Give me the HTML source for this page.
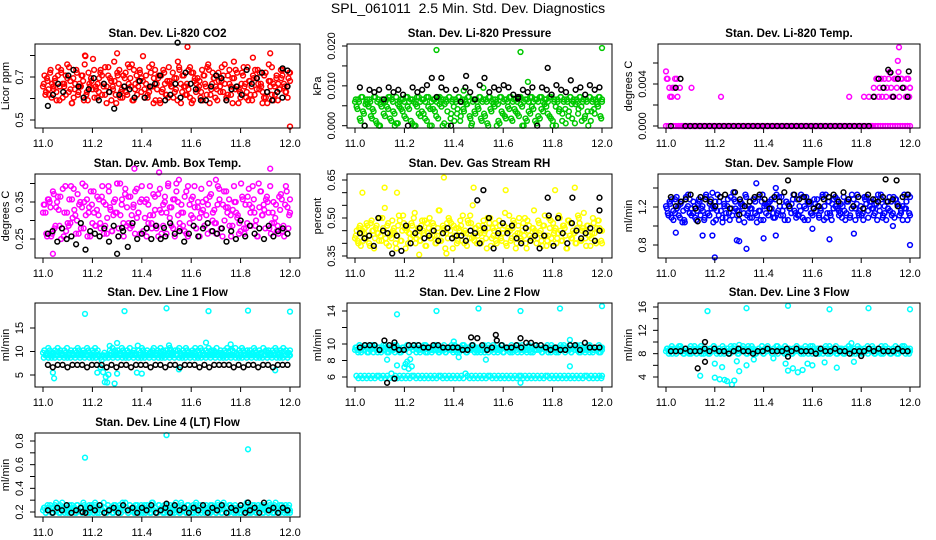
<!DOCTYPE html>
<html><head><meta charset="utf-8"><style>
html,body{margin:0;padding:0;background:#fff;}
svg{display:block;font-family:"Liberation Sans",Arial,sans-serif;}
</style></head><body>
<svg id="chart" width="936" height="540" viewBox="0 0 936 540" xmlns="http://www.w3.org/2000/svg">
<rect width="936" height="540" fill="#fff"/>
<text x="468" y="13" font-size="14" text-anchor="middle">SPL_061011&#160; 2.5 Min. Std. Dev. Diagnostics</text>
</svg>
<script>
// ---- data (x evenly spaced 11.0..12.0 for strings; base36 code 0..35 mapped into [lo,hi]) ----
const xTickValues = [11.0, 11.2, 11.4, 11.6, 11.8, 12.0];
const xTickLabels = ["11.0", "11.2", "11.4", "11.6", "11.8", "12.0"];

const co2Red = "gkeidmhfjbnglchkoeiajfmdhgkbrelgiqcfhjmdgnakeigpdlhcfkjeongbmhdiljrfkcegoamhjbkfldinhgcejpmakgdhfnlbiejgcmkhdoafljgbienkhcdmgjpflaehkgcnidbjmfhlgekcaoidhgjbfmkhegjl";
const co2Red2 = "hdjflcgiekbmhgdjnfachlegkiodbhjfmgcelkhdgnjbfiakmecgldhjobfkgmeichdnlgjbfkaemhdcigljfbnhekgdmcaljhfiebkgnmdhjcflgieobkhdajmgfclnhebigkdjmfhacleignbdkhfjmgecli";
const co2Black = "9dhekmgcfjbhe8dgfcicghkbdhclhfbbgkjbfgdmhjlebecg";
const co2RedOut = [[11.585,0.84],[12.0,0.47],[11.17,0.8],[11.3,0.81],[11.92,0.81],[11.85,0.79]];
const co2BlackOut = [[11.545,0.86],[11.97,0.74],[11.99,0.73]];

const presGreen = "a8b3c60a9b47c2a09b5a8c3b6019a7b4c8a2b09c5a6b3c80a7b4c9a01b6c3a8b5c2a7b9c40a6b8c3a5b1c7a9b02c6a4b8c3a7b5c90a3b6c8a2b4c7a9b5c30a8b6c2a7b4c9a1b5c8a3b6c2a7b9c4a";
const presGreen2 = "b7a2c59b8a36c1b08a4b7c2a5c18b6a3c7b1a08c4b5a2c70b6a3c8b9a0c5b2a7c4b6a9c31b5a7c2b4a0c6b8a91c5b3a7c2b6a4c80b2a5c7b1a3c6b8a4c2b0a7c5b1a6c3b9a7c2b4a0c6b5a8c3b";
const presBlack = "g0fefbgefd0gefhkcgf0fagebhkegfhgdcfeg0gfdhfejfgdhfg";
const presGreenOut = [[11.33,0.019],[11.67,0.0185],[12.0,0.0195],[11.7,0.011],[11.44,0.0088],[11.52,0.0095]];
const presBlackOut = [[11.78,0.0145],[11.35,0.012],[11.45,0.0125],[11.66,0.0068]];

const tempMagA = "lhdhl00000h00000000000d000000000000000000000000000000000000000000000000000d00000d0d0hldlhdlhdlolhdlh";
const tempMagB = "ldhldh000000000000000000000000000000000000000000000000000000000000000000000000000000dlhdlhodlhdlhldh";
const tempMagZero = "0000000000000000000000000000000000000000000000000000000000000000000000000000000000000000000000000000";
const tempBlack = "0hl000000000000000000000000000000000000000dlhpdlhd";
const tempMagOut = [[11.955,0.0075],[11.95,0.0062],[11.99,0.0],[11.0,0.0052]];
const tempBlackOut = [[11.92,0.0051],[11.995,0.0052]];

const ambMag = "hk9ml8pbjnc7qhadmrfi9okbslg8jpdhcnmbr9kfpialhsbgm8qjdnckpfh9ralmdgboic8qhkn9rfjbmsldhcap8kgnrbjfhlcm9soeidkqb8pjhmgcrlf9anbkdqhjmc8spgkbnhrdlfa9imckpbh";
const ambMag2 = "kh8mj9oclinb8rhcdmqge9ljbrmh8kpcigdnlc9rjagmh8skdocnbgj9qhlmaf8krdgnboi9clhsjcm8pgbkhn9rdmfjbl8qicgknahd9rmbkepjc8ilhgdsm9bnkcrhe8jpgimlb9hdkcnoa8rjgm";
const ambBlack = "9a6b785d3a98b6c8a4d79b7c78d9a69c8bda9b6a7e8c9b7c8ab9";
const ambMagOut = [[11.37,0.44],[11.92,0.44],[11.04,0.21],[11.3,0.4],[11.55,0.41],[11.7,0.41],[11.47,0.43]];
const ambBlackOut = [[11.3,0.21],[11.32,0.28],[11.49,0.28]];

const rhYellow = "9c7eb8dfa6gc9ebh8dl7fa9cb5eg8idc7bfaj9d8ecg6bh9fa7dk8ecb9gf5ad8cei7bg9fm8dac7eb9hf6dc8ag9be7ci8df5bh9ca7ge8dkb9fc6ea8hg7bd9ic8ea5gf9b7dh8cj9ea6bf8dgc7";
const rhYellow2 = "a8d6cb9e7fc5db8ahc9e6bgd7ai8cf5db9eh7ca8gb6fd9ce7ak8bd5fhc9ea7dg8bc6fi9ad7eb8gc5dh9af7ce8bj6dc9ga7eb8fh5ca9dc7gb8ei6ad9fc7bh8ed5ga9cb7if8dc6ea9hb7gd8c";
const rhBlack = "b9a6hcb3a4e7bd9ac8bd9aa8cb7dh5bfbe97d8a5ai6hb7fc9bd8c";
const rhYellowOut = [[11.36,0.66],[11.61,0.61],[11.03,0.6],[11.12,0.62],[11.89,0.62],[11.48,0.62],[11.17,0.6],[11.81,0.61],[11.26,0.355],[11.37,0.36]];
const rhBlackOut = [[11.495,0.57],[11.52,0.61],[11.78,0.58],[11.88,0.58],[11.99,0.58],[11.99,0.53]];

const flowBlue = "nkpilqmjoghrnkmpilqjnhskomgpljrinkqhmtpjlongrkimqpjlhsnkopmiqkrjlnphmoskqjlinrhpkmoqjlsnipkhmrqjonlkpimqhsjnkrolpmjqhnsikpmljrqonkhmpsj";
const flowBlue2 = "mjoqhkrniplgmsqjknhopmlirkjqnmhsplgoinkrjqmlhpoksjnmiqkgrlphonjmqkislnrjhpomkqlijnsrhmpokjqlnimrhskpjoqnmlkirhpqjsnmokljhqrinpmkoslqjnhmrpkiqojlnsmhkr";
const flowBlack = "rnpqsmrqpnrsmtqnprsqmrptnsqrpmnqrsptqnrmsqprpqnrs";
const flowBlueOut = [[11.04,0.93],[11.15,0.9],[11.19,0.9],[11.2,0.67],[11.3,0.84],[11.33,0.76],[11.4,0.87],[11.45,0.9],[11.6,0.97],[11.67,0.86],[11.77,0.92],[12.0,0.8],[11.93,1.0],[11.29,0.85],[11.37,1.45],[11.45,1.4],[11.19,1.35]];
const flowBlackOut = [[11.13,1.05],[11.9,1.49],[11.945,1.48],[11.5,1.48],[11.3,1.12]];

const l1Cyan = "fgefhgeffgehfgfegfhefgfegfhgefgfehgfegfhfge9c7f5e6gfhegfgefhgfegfhefgfeigfhgefgeffghefgfhegfgefhgffgeghfegfhgfefgfhegfhgfegfhegfgfhefgfegfhfgegfhfegfhgfegfgefhgfegffhegfgfegfhgefgfhegffg";
const l1Cyan2 = "deedededeedeedededeedeedeedeedededeedeededeedeedeedededeedeedededeedeedeedededeedeedeedededeedeedededeedeedeedeedededeedeedededeedeedeedededeedeedeedededeedee";
const l1Black = "a9aa9aaa9aaa9a9aa9aaa9aa9aa9aaa9a9aaaa9a9aa9aa9aaa";
const l1CyanOut = [[11.17,18],[11.33,18.6],[11.5,19.2],[11.67,18.6],[11.83,18.7],[12.0,18.5],[11.04,5.5],[11.045,4.3],[11.25,3.5],[11.26,3.4],[11.29,3.2],[11.3,5.3],[11.22,5.5],[11.38,5.5],[11.4,5.3],[11.94,6.0],[11.55,6.2],[11.3,11.8],[11.27,11.2],[11.66,11.9],[11.76,11.5],[11.51,11.3]];

const l2CyanHi = "fgehfgfhegfgehfgfegfhegfgfehgfegf9a7b8fgehfgfhegfgefhgfegfhegfgfehgfegfhgefgfhegfgefhfgegfhgfegfhegfgehfgfegfhgfegfgehfgfhegfgefhgfegfhfgegfhegfgfehgfegfhgefgfheg";
const l2CyanHi2 = "gfhegfgefhgfegfhfgegfhgfefgfhegfhgfegfhegfgfhefgfegfhfgegfhfegfhgfegfgefhgfegffhegfgfegfhgefgfhegffgfegfhgefgfegfhfgfegfhgefgfhegfgfegf";
const l2CyanLo = "4343434343443434353434343434434343434343443434343434354343434343443434343434343443434343434344343434343434343434434343434";
const l2Black = "ghhhfjhgffhhhgghhggggffhkhfgjhgghgiihhgfgffhhfiggg";
const l2CyanOut = [[11.17,13.6],[11.33,14],[11.5,14.3],[11.67,14],[11.83,14.3],[12.0,14.6],[11.87,7.3],[11.17,7.4],[11.2,7.2],[11.13,8.1],[11.53,8.1],[11.42,8.4],[11.67,5.3],[11.87,10.5],[11.4,10.3]];
const l2BlackOut = [[11.13,5.3],[11.16,5.8],[11.16,10.2],[11.57,11.1],[11.47,10.8],[11.67,10.7]];

const l3Cyan = "fgefhgfegfhgefgfehfgfegfhgefgfegfhgefgfhefgfegfhgfegfhfgegfhgfefgfhegfhgfegfhegfgfhefgfegfhfgegfhfegfhgfegfgefhgfegffhegfgfegfhgefgfhegffgfegfhgefgfegfhfgfegfhgefgfhegfg";
const l3Cyan2 = "gfgefgfhgfegfgefhgfgefgfegfhgfgefgfgehfgfegfgfehgfgefgfhegfgfegfhgfgefgfegfhgfgefgfhegfgefgfgehgfgefgfegfhgfgefgfegfhgfgefgfhegfgefgfegfhgfgef";
const l3Black = "fffgfffgfgffefgffeffgfffgfgfffegffgffefffgfgfffgff";
const l3CyanOut = [[11.2,3.9],[11.22,3.6],[11.24,3.5],[11.25,3.3],[11.27,2.7],[11.28,3.4],[11.14,4.2],[11.23,5.7],[11.3,5],[11.33,6],[11.29,6.7],[11.5,5.1],[11.52,5.5],[11.54,4.8],[11.56,5.2],[11.58,6.3],[11.6,6.0],[11.7,5.6],[11.65,6.5],[11.49,6.3],[11.36,7],[11.44,7.2],[11.2,6.3],[11.77,6.6],[11.76,9.8],[11.3,9.5],[11.17,15.3],[11.33,15.8],[11.5,16.2],[11.67,15.6],[11.83,15.8],[12.0,15.6]];
const l3BlackOut = [[11.13,5.5],[11.16,10],[11.16,6.6],[11.8,7.6],[11.5,7.5]];

const l4Cyan = "3424352436425342534253425342634253425342536425342534252436425342534253425342634253425342534263425342534253624534253425342534263425342534253426342534253425342534264253425342";
const l4Cyan2 = "4253425342634253425342534253624534253425342634253425342534263425342534253426342534253425342534264253425342342435243524352436425342534253";
const l4Black = "3243523424352342534243523425342435243524352342634243";
const l4CyanOut = [[11.17,0.66],[11.5,0.85],[11.83,0.73]];
const l4BlackOut = [[11.5,0.27],[11.83,0.28],[11.16,0.2]];

const panels = [
 {name:"co2",title:"Stan. Dev. Li-820 CO2",ylab:"Licor ppm",col:0,row:0,cal:[0.5,120,0.7,77],ticks:[0.5,0.6,0.7,0.8],labels:[[0.5,"0.5"],[0.7,"0.7"]],
  series:[[co2Red,0.45,0.9,"#ff0000"],[co2Red2,0.45,0.9,"#ff0000"],[co2Black,0.45,0.9,"#000"]],out:[[co2RedOut,"#ff0000"],[co2BlackOut,"#000"]]},
 {name:"pressure",title:"Stan. Dev. Li-820 Pressure",ylab:"kPa",col:1,row:0,cal:[0,125.7,0.02,46],ticks:[0,0.005,0.01,0.015,0.02],labels:[[0,"0.000"],[0.01,"0.010"],[0.02,"0.020"]],
  series:[[presGreen,0,0.021,"#00c800"],[presGreen2,0,0.021,"#00c800"],[presBlack,0,0.021,"#000"]],out:[[presGreenOut,"#00c800"],[presBlackOut,"#000"]]},
 {name:"temp",title:"Stan. Dev. Li-820 Temp.",ylab:"degrees C",col:2,row:0,cal:[0,126,0.004,84],ticks:[0,0.002,0.004,0.006],labels:[[0,"0.000"],[0.004,"0.004"]],
  series:[[tempMagZero,0,0.0075,"#ff00ff"],[tempMagA,0,0.0075,"#ff00ff"],[tempMagB,0,0.0075,"#ff00ff"],[tempBlack,0,0.0075,"#000"]],out:[[tempMagOut,"#ff00ff"],[tempBlackOut,"#000"]]},
 {name:"ambbox",title:"Stan. Dev. Amb. Box Temp.",ylab:"degrees C",col:0,row:1,cal:[0.25,239,0.35,202],ticks:[0.25,0.3,0.35,0.4],labels:[[0.25,"0.25"],[0.35,"0.35"]],
  series:[[ambMag,0.2,0.45,"#ff00ff"],[ambMag2,0.2,0.45,"#ff00ff"],[ambBlack,0.2,0.45,"#000"]],out:[[ambMagOut,"#ff00ff"],[ambBlackOut,"#000"]]},
 {name:"rh",title:"Stan. Dev. Gas Stream RH",ylab:"percent",col:1,row:1,cal:[0.35,256,0.65,180],ticks:[0.35,0.4,0.45,0.5,0.55,0.6,0.65],labels:[[0.35,"0.35"],[0.5,"0.50"],[0.65,"0.65"]],
  series:[[rhYellow,0.33,0.68,"#ffff00"],[rhYellow2,0.33,0.68,"#ffff00"],[rhBlack,0.33,0.68,"#000"]],out:[[rhYellowOut,"#ffff00"],[rhBlackOut,"#000"]]},
 {name:"sampleflow",title:"Stan. Dev. Sample Flow",ylab:"ml/min",col:2,row:1,cal:[0.8,245,1.2,207],ticks:[0.8,1.0,1.2,1.4],labels:[[0.8,"0.8"],[1.2,"1.2"]],
  series:[[flowBlue,0.65,1.5,"#0000ff"],[flowBlue2,0.65,1.5,"#0000ff"],[flowBlack,0.65,1.5,"#000"]],out:[[flowBlueOut,"#0000ff"],[flowBlackOut,"#000"]]},
 {name:"line1",title:"Stan. Dev. Line 1 Flow",ylab:"ml/min",col:0,row:2,cal:[5,375,15,328],ticks:[5,10,15],labels:[[5,"5"],[10,"10"],[15,"15"]],
  series:[[l1Cyan,2,20,"#00ffff"],[l1Cyan2,2,20,"#00ffff"],[l1Black,2,20,"#000"]],out:[[l1CyanOut,"#00ffff"]]},
 {name:"line2",title:"Stan. Dev. Line 2 Flow",ylab:"ml/min",col:1,row:2,cal:[6,377,14,311],ticks:[6,8,10,12,14],labels:[[6,"6"],[8,"8"],[10,"10"],[14,"14"]],
  series:[[l2CyanHi,5,15,"#00ffff"],[l2CyanHi2,5,15,"#00ffff"],[l2CyanLo,5,15,"#00ffff"],[l2Black,5,15,"#000"]],out:[[l2CyanOut,"#00ffff"],[l2BlackOut,"#000"]]},
 {name:"line3",title:"Stan. Dev. Line 3 Flow",ylab:"ml/min",col:2,row:2,cal:[4,377,16,307],ticks:[4,6,8,10,12,14,16],labels:[[4,"4"],[8,"8"],[12,"12"],[16,"16"]],
  series:[[l3Cyan,2,17,"#00ffff"],[l3Cyan2,2,17,"#00ffff"],[l3Black,2,17,"#000"]],out:[[l3CyanOut,"#00ffff"],[l3BlackOut,"#000"]]},
 {name:"line4",title:"Stan. Dev. Line 4 (LT) Flow",ylab:"ml/min",col:0,row:3,cal:[0.2,512,0.8,441],ticks:[0.2,0.3,0.4,0.5,0.6,0.7,0.8],labels:[[0.2,"0.2"],[0.4,"0.4"],[0.6,"0.6"],[0.8,"0.8"]],
  series:[[l4Cyan,0.15,0.9,"#00ffff"],[l4Cyan2,0.15,0.9,"#00ffff"],[l4Black,0.15,0.9,"#000"]],out:[[l4CyanOut,"#00ffff"],[l4BlackOut,"#000"]]}
];

const NS = "http://www.w3.org/2000/svg";
const svg = document.getElementById("chart");
const colX = [35, 347, 658], colW = [265, 265, 262];
const rowY = [44, 174, 303, 433], BH = 84;
function mk(tag, attrs, parent){ const e=document.createElementNS(NS,tag); for(const k in attrs) e.setAttribute(k,attrs[k]); parent.appendChild(e); return e; }
function decode(s, lo, hi){ return Array.from(s).map(c => lo + parseInt(c,36)/35*(hi-lo)); }

panels.forEach(p => {
  const bx = colX[p.col], bw = colW[p.col], by = rowY[p.row];
  const xs = v => bx + 8 + (v - 11) * (bw - 18);
  const [v0,y0,v1,y1] = p.cal;
  const ys = v => y0 + (v - v0) * (y1 - y0) / (v1 - v0);
  const g = mk("g", {}, svg);
  
  
  const t = mk("text", {x: bx + bw/2, y: by - 7, "font-size": 11.5, "font-weight": "bold", "text-anchor": "middle"}, g);
  t.textContent = p.title;
  
  
  const yl = mk("text", {transform: `translate(${bx-26},${by+BH/2}) rotate(-90)`, "font-size": 11, "text-anchor": "middle"}, g);
  yl.textContent = p.ylab;
  
  
  const pts = mk("g", {fill: "none", "stroke-width": 1.5}, g);
  
  
  const dot = (x, y, c) => {
    const el = mk("circle", {cx: xs(x).toFixed(1), cy: ys(y).toFixed(1), r: 2.4, stroke: c}, pts);
    
    
  };
  const colored = p.series.filter(s => s[3] !== "#000"), blacks = p.series.filter(s => s[3] === "#000");
  colored.forEach(([s, lo, hi, c], k) => { const vals = decode(s, lo, hi); const n = vals.length; const off = (k / colored.length) / n;
    vals.forEach((v, i) => dot(Math.min(12, 11 + i/(n-1) + off), v, c)); });
  p.out.filter(o => o[1] !== "#000").forEach(([arr, c]) => arr.forEach(([x, y]) => dot(x, y, c)));
  blacks.forEach(([s, lo, hi, c]) => { const vals = decode(s, lo, hi); const n = vals.length;
    vals.forEach((v, i) => dot(11.02 + i/(n-1)*0.97, v, c)); });
  p.out.filter(o => o[1] === "#000").forEach(([arr, c]) => arr.forEach(([x, y]) => dot(x, y, c)));
  const box = mk("rect", {x: bx, y: by, width: bw, height: BH, fill: "none", stroke: "#000", "stroke-width": 1}, g);
  
  
  xTickValues.forEach((v, i) => {
    const tk = mk("line", {x1: xs(v), x2: xs(v), y1: by+BH, y2: by+BH+5, stroke: "#000"}, g);
    
    
    const tl = mk("text", {x: xs(v), y: by+BH+19, "font-size": 11, "text-anchor": "middle"}, g);
    tl.textContent = xTickLabels[i];
    
    
  });
  p.ticks.forEach(v => {
    const tk = mk("line", {x1: bx-5, x2: bx, y1: ys(v), y2: ys(v), stroke: "#000"}, g);
    
    
  });
  p.labels.forEach(([v, s]) => {
    const tl = mk("text", {transform: `translate(${bx-12},${ys(v)}) rotate(-90)`, "font-size": 11, "text-anchor": "middle"}, g);
    tl.textContent = s;
    
    
  });
});
</script>
</body></html>
